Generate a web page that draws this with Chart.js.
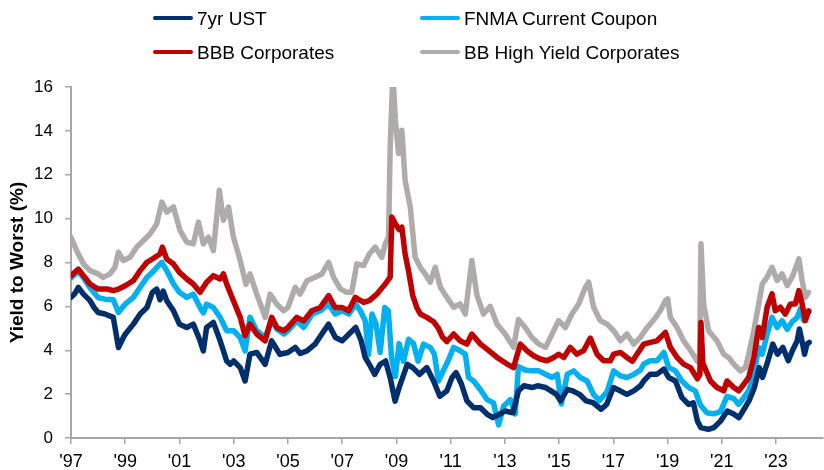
<!DOCTYPE html>
<html>
<head>
<meta charset="utf-8">
<title>Yield to Worst</title>
<script src="https://cdn.jsdelivr.net/npm/chart.js"></script>
<style>
  html, body { margin: 0; padding: 0; background: #fff; }
  #wrap { position: relative; width: 824px; height: 470px; font-family: 'Liberation Sans', Arial, sans-serif; }
  #chart { position: absolute; left: 0; top: 0; }
  .lg { position: absolute; font-size: 19px; color: #000; line-height: 22px; white-space: nowrap; }
  .lg i { display: inline-block; width: 40px; height: 4px; border-radius: 2px; vertical-align: middle; margin-right: 4px; position: relative; top: -2px; }
</style>
</head>
<body>
<div id="wrap">
  <canvas id="chart" width="824" height="470"></canvas>
  <div class="lg" style="left:153px; top:8px;"><i style="background:#002F6C"></i>7yr UST</div>
  <div class="lg" style="left:420px; top:8px;"><i style="background:#00B0F0"></i>FNMA Current Coupon</div>
  <div class="lg" style="left:153px; top:42px;"><i style="background:#C00000"></i>BBB Corporates</div>
  <div class="lg" style="left:420px; top:42px;"><i style="background:#AFABAB"></i>BB High Yield Corporates</div>
</div>
<script>
// values (decimal year, yield %)
const ustDates = [1997.0, 1997.15, 1997.27, 1997.46, 1997.7, 1997.85, 1998.0, 1998.25, 1998.56, 1998.75, 1998.93,
  1999.0, 1999.3, 1999.55, 1999.8, 2000.0, 2000.16, 2000.28, 2000.4, 2000.53, 2000.78, 2001.0, 2001.27, 2001.51,
  2001.76, 2001.88, 2002.0, 2002.25, 2002.5, 2002.74, 2002.87, 2003.0, 2003.24, 2003.42, 2003.6, 2003.85, 2004.16,
  2004.4, 2004.7, 2005.0, 2005.27, 2005.45, 2005.7, 2006.0, 2006.25, 2006.5, 2006.75, 2007.0, 2007.25, 2007.5,
  2007.7, 2007.85, 2008.0, 2008.2, 2008.4, 2008.6, 2008.77, 2008.95, 2009.1, 2009.4, 2009.6, 2009.85, 2010.12,
  2010.37, 2010.6, 2010.86, 2011.05, 2011.2, 2011.4, 2011.6, 2011.85, 2012.1, 2012.35, 2012.55, 2012.8, 2013.0,
  2013.3, 2013.5, 2013.7, 2014.0, 2014.2, 2014.5, 2014.7, 2014.9, 2015.05, 2015.3, 2015.5, 2015.75, 2016.0,
  2016.25, 2016.55, 2016.75, 2017.0, 2017.25, 2017.5, 2017.75, 2018.0, 2018.12, 2018.36, 2018.61, 2018.86,
  2019.04, 2019.29, 2019.53, 2019.78, 2019.95, 2020.1, 2020.23, 2020.5, 2020.7, 2020.95, 2021.2, 2021.45,
  2021.63, 2021.85, 2022.0, 2022.2, 2022.38, 2022.5, 2022.7, 2022.88, 2023.05, 2023.25, 2023.45, 2023.6,
  2023.78, 2023.86, 2023.98, 2024.05, 2024.14, 2024.22];
const ustYield = [6.41, 6.6, 6.87, 6.56, 6.26, 5.95, 5.72, 5.65, 5.5, 4.12, 4.58,
  4.73, 5.19, 5.65, 5.95, 6.64, 6.79, 6.3, 6.7, 6.26, 5.8, 5.19, 5.04, 5.19,
  4.43, 3.97, 5.04, 5.27, 4.43, 3.51, 3.36, 3.51, 3.21, 2.6, 3.82, 3.9, 3.36,
  4.43, 3.82, 3.9, 4.13, 3.85, 3.97, 4.28, 4.74, 5.19, 4.58, 4.43, 4.74, 5.04,
  4.43, 3.67, 3.36, 2.9, 3.36, 3.51, 2.75, 1.68, 2.3, 3.36, 3.21, 2.9, 3.21,
  2.6, 1.9, 2.15, 2.76, 2.98, 2.45, 1.69, 1.38, 1.38, 1.08, 0.93, 1.08, 1.23,
  1.15, 2.15, 2.38, 2.3, 2.38, 2.3, 2.15, 1.99, 1.69, 2.22, 2.15, 1.99, 1.69,
  1.61, 1.31, 1.53, 2.3, 2.15, 1.99, 2.15, 2.38, 2.6, 2.91, 2.91, 3.14,
  2.76, 2.6, 1.84, 1.53, 1.6, 0.77, 0.47, 0.39, 0.47, 0.77, 1.23, 1.08,
  0.93, 1.38, 1.69, 2.3, 3.21, 2.76, 3.52, 4.28, 3.82, 4.13, 3.52, 3.98,
  4.43, 4.97, 4.28, 3.82, 4.28, 4.36];

const fnmaDates = [1997.0, 1997.27, 1997.46, 1997.7, 1998.0, 1998.25, 1998.56, 1998.75, 1998.93, 1999.0, 1999.3,
  1999.55, 1999.8, 2000.0, 2000.28, 2000.35, 2000.53, 2000.78, 2001.0, 2001.27, 2001.51, 2001.76, 2001.88,
  2002.0, 2002.25, 2002.5, 2002.74, 2003.0, 2003.24, 2003.42, 2003.6, 2003.85, 2004.16, 2004.4, 2004.6,
  2004.85, 2005.0, 2005.33, 2005.58, 2005.9, 2006.2, 2006.5, 2006.74, 2007.0, 2007.25, 2007.5, 2007.67,
  2007.85, 2007.97, 2008.1, 2008.25, 2008.4, 2008.57, 2008.7, 2008.82, 2008.96, 2009.1, 2009.26, 2009.45,
  2009.63, 2009.8, 2010.0, 2010.25, 2010.4, 2010.55, 2010.74, 2010.9, 2011.11, 2011.35, 2011.54, 2011.66,
  2011.85, 2012.1, 2012.34, 2012.58, 2012.77, 2012.95, 2013.2, 2013.38, 2013.5, 2013.75, 2014.0, 2014.25,
  2014.5, 2014.74, 2014.93, 2015.08, 2015.3, 2015.54, 2015.78, 2016.03, 2016.27, 2016.48, 2016.77, 2017.01,
  2017.26, 2017.5, 2017.75, 2018.0, 2018.12, 2018.36, 2018.61, 2018.86, 2019.04, 2019.29, 2019.53, 2019.78,
  2020.02, 2020.21, 2020.45, 2020.7, 2020.95, 2021.19, 2021.44, 2021.62, 2021.81, 2021.99, 2022.18, 2022.36,
  2022.49, 2022.67, 2022.85, 2023.04, 2023.22, 2023.41, 2023.59, 2023.78, 2023.9, 2024.02, 2024.14, 2024.22];
const fnmaYield = [7.3, 7.6, 7.3, 6.85, 6.4, 6.33, 6.3, 5.72, 6.0, 6.1, 6.41,
  6.87, 7.32, 7.55, 7.93, 8.0, 7.63, 7.02, 6.64, 6.41, 6.56, 5.95, 5.7,
  6.1, 5.95, 5.5, 4.89, 4.89, 4.58, 3.97, 5.5, 4.89, 4.58, 5.34, 4.96,
  4.74, 4.89, 5.34, 5.04, 5.65, 5.8, 6.1, 5.65, 5.8, 5.65, 6.1, 5.8,
  5.34, 3.8, 5.65, 5.19, 3.9, 5.95, 5.8, 3.67, 2.8, 4.3, 3.5, 4.5,
  4.3, 3.5, 4.28, 4.13, 3.82, 2.6, 3.1, 3.5, 4.13, 3.98, 3.82, 2.76,
  2.6, 2.2, 1.75, 1.6, 0.6, 1.45, 1.75, 1.1, 3.25, 3.1, 3.06, 3.06,
  2.91, 2.76, 2.9, 1.55, 2.91, 3.06, 2.76, 2.6, 1.99, 1.7, 2.1, 3.06,
  2.83, 2.76, 2.9, 3.1, 3.37, 3.52, 3.52, 3.9, 3.21, 3.06, 2.6, 2.3,
  2.15, 1.5, 1.15, 1.1, 1.2, 1.9, 1.8, 1.53, 1.84, 2.15, 2.91, 4.13,
  3.82, 4.74, 5.5, 5.04, 5.35, 4.95, 5.3, 5.5, 5.9, 5.35, 5.73, 5.75];

const bbbDates = [1997.0, 1997.27, 1997.46, 1997.7, 1998.0, 1998.33, 1998.56, 1998.75, 1999.0, 1999.3, 1999.55,
  1999.8, 2000.0, 2000.28, 2000.37, 2000.53, 2000.78, 2001.0, 2001.27, 2001.51, 2001.76, 2002.0, 2002.25,
  2002.5, 2002.62, 2002.74, 2002.99, 2003.24, 2003.42, 2003.6, 2003.85, 2004.16, 2004.4, 2004.59, 2004.84,
  2005.0, 2005.33, 2005.58, 2005.88, 2006.19, 2006.5, 2006.74, 2006.99, 2007.24, 2007.48, 2007.79, 2008.0,
  2008.28, 2008.59, 2008.77, 2008.83, 2008.96, 2009.1, 2009.2, 2009.32, 2009.45, 2009.6, 2009.75, 2009.88,
  2010.12, 2010.37, 2010.55, 2010.7, 2010.86, 2011.11, 2011.35, 2011.6, 2011.78, 2012.1, 2012.34, 2012.71,
  2013.08, 2013.32, 2013.57, 2013.81, 2014.06, 2014.3, 2014.55, 2014.8, 2014.98, 2015.17, 2015.41, 2015.66,
  2015.9, 2016.15, 2016.4, 2016.64, 2016.89, 2017.01, 2017.26, 2017.5, 2017.7, 2017.87, 2018.12, 2018.36,
  2018.61, 2018.92, 2019.1, 2019.35, 2019.59, 2019.84, 2020.1, 2020.19, 2020.23, 2020.3, 2020.58, 2020.82,
  2021.07, 2021.19, 2021.44, 2021.62, 2021.81, 2021.99, 2022.18, 2022.36, 2022.49, 2022.67, 2022.85, 2022.97,
  2023.16, 2023.34, 2023.53, 2023.71, 2023.84, 2023.96, 2024.08, 2024.2];
const bbbYield = [7.4, 7.7, 7.4, 7.02, 6.79, 6.79, 6.72, 6.79, 6.94, 7.17, 7.63,
  8.01, 8.16, 8.39, 8.7, 8.16, 7.93, 7.55, 7.25, 7.02, 6.64, 7.1, 7.4,
  7.25, 7.48, 7.02, 6.26, 5.5, 4.66, 5.19, 4.74, 4.43, 5.5, 5.04, 4.89,
  5.04, 5.5, 5.34, 5.8, 5.95, 6.49, 5.95, 5.95, 5.8, 6.41, 6.18, 6.26,
  6.56, 7.02, 7.33, 10.07, 9.76, 9.5, 9.61, 8.39, 7.6, 6.5, 5.95, 5.65,
  5.5, 5.3, 5.0, 4.6, 4.4, 4.74, 4.43, 4.28, 4.74, 4.28, 4.05, 3.67,
  3.37, 3.21, 4.28, 3.98, 3.75, 3.6, 3.52, 3.67, 3.82, 3.67, 4.13, 3.82,
  3.98, 4.55, 3.82, 3.52, 3.52, 3.82, 3.9, 3.67, 3.5, 3.82, 4.28, 4.36,
  4.43, 4.81, 4.13, 3.67, 3.37, 3.21, 2.7, 2.9, 5.27, 3.4, 2.6, 2.3,
  2.15, 2.6, 2.3, 2.15, 2.45, 2.76, 3.67, 5.04, 4.58, 5.96, 6.57, 5.8,
  5.96, 5.65, 6.11, 6.11, 6.72, 6.11, 5.35, 5.8];

const bbDates = [1997.0, 1997.21, 1997.46, 1997.7, 1998.0, 1998.19, 1998.44, 1998.62, 1998.75, 1998.93, 1999.18,
  1999.42, 1999.67, 1999.92, 2000.16, 2000.35, 2000.53, 2000.78, 2001.02, 2001.27, 2001.51, 2001.7, 2001.88,
  2002.07, 2002.25, 2002.47, 2002.62, 2002.81, 2002.99, 2003.24, 2003.45, 2003.6, 2003.85, 2004.16, 2004.34,
  2004.59, 2004.84, 2005.0, 2005.27, 2005.45, 2005.7, 2006.0, 2006.25, 2006.5, 2006.68, 2006.93, 2007.17,
  2007.35, 2007.54, 2007.79, 2008.0, 2008.22, 2008.46, 2008.59, 2008.71, 2008.77, 2008.87, 2008.96, 2009.08,
  2009.2, 2009.32, 2009.51, 2009.69, 2009.88, 2010.06, 2010.25, 2010.43, 2010.62, 2010.86, 2011.11, 2011.35,
  2011.54, 2011.78, 2011.97, 2012.21, 2012.46, 2012.71, 2013.01, 2013.32, 2013.5, 2013.75, 2014.0, 2014.25,
  2014.5, 2014.74, 2014.98, 2015.23, 2015.47, 2015.72, 2015.97, 2016.09, 2016.27, 2016.52, 2016.77, 2017.01,
  2017.26, 2017.5, 2017.75, 2018.0, 2018.25, 2018.5, 2018.73, 2018.92, 2019.0, 2019.1, 2019.35, 2019.59,
  2019.84, 2020.1, 2020.18, 2020.23, 2020.33, 2020.51, 2020.82, 2021.07, 2021.25, 2021.44, 2021.68, 2021.87,
  2021.99, 2022.18, 2022.36, 2022.49, 2022.67, 2022.85, 2023.04, 2023.22, 2023.41, 2023.59, 2023.78, 2023.84,
  2023.96, 2024.08, 2024.2];
const bbYield = [9.15, 8.54, 7.93, 7.63, 7.48, 7.32, 7.48, 7.78, 8.47, 8.09, 8.24,
  8.7, 9.0, 9.31, 9.76, 10.75, 10.3, 10.53, 9.46, 8.93, 8.85, 9.84, 8.85,
  9.15, 8.54, 11.29, 9.92, 10.53, 9.15, 8.09, 7.0, 7.48, 6.56, 5.5, 6.56,
  6.1, 5.8, 5.95, 6.87, 6.56, 7.17, 7.33, 7.48, 8.01, 7.33, 6.8, 6.64,
  6.64, 7.94, 7.86, 8.39, 8.7, 8.24, 8.85, 9.16, 13.27, 16.6, 14.5, 12.97,
  14.03, 11.75, 10.53, 8.24, 7.78, 7.48, 7.1, 7.78, 6.87, 6.41, 5.96, 6.11,
  5.65, 8.09, 6.5, 5.65, 6.0, 5.19, 4.74, 4.13, 5.4, 5.04, 4.58, 4.28,
  4.13, 4.74, 5.35, 5.04, 5.65, 6.11, 6.87, 7.1, 5.96, 5.35, 5.19, 4.89,
  4.43, 4.74, 4.28, 4.6, 5.04, 5.4, 5.8, 6.26, 6.34, 5.5, 5.04, 4.43,
  4.0, 3.5, 3.8, 8.85, 6.11, 4.89, 4.43, 3.82, 3.67, 3.37, 3.06, 3.21,
  3.82, 4.89, 6.11, 7.02, 7.33, 7.78, 7.18, 7.48, 6.95, 7.33, 7.94, 8.17,
  7.18, 6.41, 6.64];

const xTickYears = [1997, 1999, 2001, 2003, 2005, 2007, 2009, 2011, 2013, 2015, 2017, 2019, 2021, 2023];

const axisGray = '#A6A6A6';
const fontFamily = "'Liberation Sans', Arial, sans-serif";

function pairs(dates, vals) {
    return dates.map((d, i) => ({ x: d, y: vals[i] }));
}

function series(label, dates, vals, color, order) {
    return {
        label: label,
        data: pairs(dates, vals),
        borderColor: color,
        backgroundColor: color,
        borderWidth: 5.5,
        pointRadius: 0,
        tension: 0,
        borderJoinStyle: 'round',
        borderCapStyle: 'round',
        order: order
    };
}

Chart.defaults.font.family = fontFamily;
Chart.defaults.color = '#000';

new Chart(document.getElementById('chart'), {
    type: 'line',
    data: {
        datasets: [
            series('7yr UST', ustDates, ustYield, '#002F6C', 1),
            series('FNMA Current Coupon', fnmaDates, fnmaYield, '#00B0F0', 2),
            series('BBB Corporates', bbbDates, bbbYield, '#C00000', 0),
            series('BB High Yield Corporates', bbDates, bbYield, '#AFABAB', 3)
        ]
    },
    options: {
        responsive: false,
        animation: false,
        layout: { padding: { top: 87, right: 1, left: 0, bottom: 0 } },
        plugins: {
            legend: { display: false },
            tooltip: { enabled: false }
        },
        scales: {
            x: {
                type: 'linear',
                min: 1997,
                max: 2024.73,
                afterBuildTicks: function (s) {
                    s.ticks = xTickYears.map(v => ({ value: v }));
                },
                afterFit: function (s) { s.height = 32; },
                ticks: {
                    font: { size: 18 },
                    color: '#000',
                    padding: 7,
                    maxRotation: 0,
                    autoSkip: false,
                    callback: v => "'" + String(v).slice(2)
                },
                grid: { drawOnChartArea: false, tickLength: 6, color: axisGray, lineWidth: 1.5 },
                border: { color: axisGray, width: 2 }
            },
            y: {
                min: 0,
                max: 16,
                afterFit: function (s) { s.width = 71; },
                ticks: { stepSize: 2, font: { size: 17 }, color: '#000', padding: 12 },
                grid: { drawOnChartArea: false, tickLength: 6, color: axisGray, lineWidth: 1.5 },
                border: { color: axisGray, width: 2 },
                title: {
                    display: true,
                    text: 'Yield to Worst (%)',
                    font: { size: 19, weight: 'bold' },
                    color: '#000',
                    padding: { top: 6, bottom: 0 }
                }
            }
        }
    }
});
</script>
</body>
</html>
